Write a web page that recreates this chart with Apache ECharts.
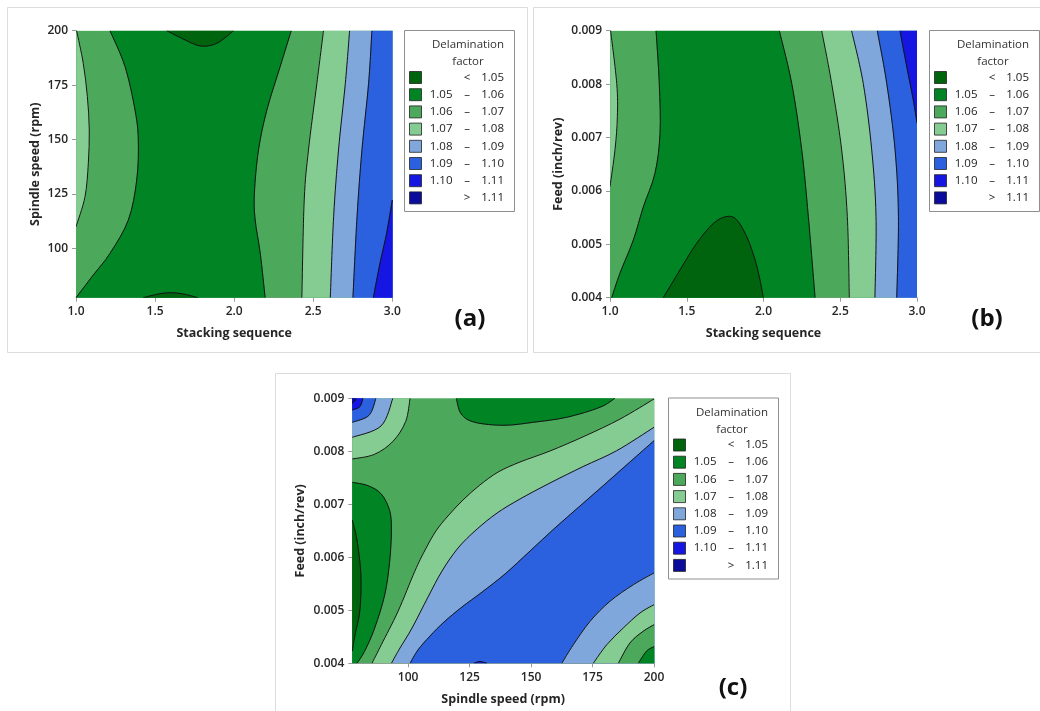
<!DOCTYPE html>
<html>
<head>
<meta charset="utf-8">
<title>Delamination factor contour plots</title>
<script src="https://cdn.jsdelivr.net/npm/echarts@6/dist/echarts.min.js"></script>
<style>
  html, body { margin: 0; padding: 0; background: #fff; }
  #chart { width: 1040px; height: 711px; }
</style>
</head>
<body>
<div id="chart"></div>
<script>
// delamination factor classes (legend)
const levelColors = ['#00640f', '#008424', '#4ca95b', '#84cc91', '#80a7dc', '#2b60de', '#1616e2', '#0c0c9c'];
const legendLeft = ['', '1.05', '1.06', '1.07', '1.08', '1.09', '1.10', ''];
const legendMid = ['<', '–', '–', '–', '–', '–', '–', '>'];
const legendRight = ['1.05', '1.06', '1.07', '1.08', '1.09', '1.10', '1.11', '1.11'];

// axis ranges and ticks
const stackRange = [1, 3];
const speedRange = [77.3, 200];
const feedRange = [0.004, 0.009];
const speedTicks = [100, 125, 150, 175, 200];

// (a) stacking sequence x spindle speed : contour lines [x, y]
const a107Left = [[1.004, 200], [1.046, 185], [1.072, 169.7], [1.084, 154.4], [1.078, 139.1], [1.057, 123.7], [1.0, 109.9]];
const a106Left = [[1.215, 200], [1.31, 183.5], [1.373, 163.6], [1.394, 149.8], [1.384, 131.4], [1.331, 113], [1.215, 97.7], [1.109, 87.7], [1.0, 77.3]];
const a105Top = [[1.574, 200], [1.669, 196.5], [1.785, 193], [1.89, 194.2], [1.996, 200]];
const a105Bottom = [[1.426, 77.3], [1.52, 79.0], [1.6, 79.6], [1.68, 79.0], [1.77, 77.3]];
const a106Right = [[2.361, 200], [2.291, 183.5], [2.207, 163.6], [2.154, 145.2], [2.128, 125.3], [2.133, 113], [2.165, 97.7], [2.196, 77.3]];
const a107Right = [[2.565, 200], [2.523, 175.8], [2.47, 145.2], [2.443, 122.2], [2.428, 77.3]];
const a108 = [[2.73, 200], [2.703, 175.8], [2.66, 145.2], [2.629, 114.5], [2.608, 77.3]];
const a109 = [[2.871, 200], [2.85, 175.8], [2.808, 145.2], [2.777, 114.5], [2.751, 77.3]];
const a110 = [[3.0, 122.2], [2.964, 106.9], [2.922, 93.1], [2.88, 77.3]];

// (b) stacking sequence x feed
const b107Left = [[1.004, 0.009], [1.044, 0.00801], [1.048, 0.00739], [1.033, 0.00678], [1.0, 0.00608]];
const b106Left = [[1.3, 0.009], [1.321, 0.00801], [1.326, 0.00708], [1.293, 0.00633], [1.217, 0.0057], [1.152, 0.00508], [1.065, 0.00446], [1.011, 0.004]];
const b105Blob = [[1.347, 0.004], [1.456, 0.00452], [1.565, 0.00502], [1.673, 0.00539], [1.76, 0.00552], [1.825, 0.00546], [1.891, 0.00514], [1.945, 0.00471], [1.977, 0.00433], [1.999, 0.004]];
const b106Right = [[2.103, 0.009], [2.184, 0.00801], [2.249, 0.00677], [2.292, 0.00552], [2.336, 0.004]];
const b107Right = [[2.379, 0.009], [2.444, 0.00801], [2.509, 0.00677], [2.546, 0.00552], [2.559, 0.004]];
const b108 = [[2.574, 0.009], [2.65, 0.00801], [2.705, 0.00677], [2.733, 0.00552], [2.726, 0.004]];
const b109 = [[2.741, 0.009], [2.803, 0.00801], [2.857, 0.00677], [2.879, 0.00552], [2.868, 0.004]];
const b110 = [[2.889, 0.009], [2.933, 0.00833], [2.976, 0.0077], [3.0, 0.00727]];

// (c) spindle speed x feed
const c111Corner = [[78.8, 0.009], [78.3, 0.008949], [77.3, 0.008911]];
const c110Corner = [[81.6, 0.009], [80.4, 0.008843], [77.3, 0.008779]];
const c109Corner = [[86.9, 0.009], [84.1, 0.008679], [77.3, 0.008547]];
const c108Corner = [[93.8, 0.009], [89.0, 0.008479], [77.3, 0.008264]];
const c107Corner = [[100.8, 0.009], [99.0, 0.008562], [93.9, 0.00819], [86.3, 0.007942], [77.3, 0.007855]];
const c105Top = [[119.6, 0.009], [121.6, 0.008704], [127.1, 0.008547], [139.0, 0.008491], [150.9, 0.008547], [164.5, 0.008642], [178.0, 0.00883], [184.1, 0.009]];
const c106Left = [[77.3, 0.007415], [83.7, 0.007351], [89.1, 0.007194], [92.5, 0.006879], [93.2, 0.006515], [92.5, 0.005925], [90.5, 0.005294], [86.4, 0.004666], [82.3, 0.004226], [79.2, 0.004]];
const c105Left = [[77.3, 0.006704], [79.2, 0.006326], [80.8, 0.005666], [80.4, 0.005006], [78.4, 0.004534], [77.3, 0.004232]];
const c107Diag = [[200, 0.008987], [186.2, 0.008609], [171.9, 0.008289], [157.7, 0.008006], [145.5, 0.007798], [136.6, 0.007609], [129.2, 0.007364], [122.3, 0.007081], [116.2, 0.006779], [111.3, 0.006496], [106.9, 0.006138], [102.7, 0.005736], [95.9, 0.004981], [89.1, 0.004351], [85.3, 0.004]];
const c108Diag = [[200, 0.008453], [184.8, 0.008011], [171.2, 0.007713], [157.7, 0.007402], [145.5, 0.0071], [136.2, 0.006836], [127.6, 0.006515], [120.3, 0.006175], [113.8, 0.005742], [108.1, 0.005251], [101.6, 0.004666], [96.7, 0.004289], [93.2, 0.004]];
const c109Diag = [[200, 0.0082], [190.2, 0.007798], [180.1, 0.007383], [169.9, 0.006968], [159.7, 0.006553], [149.6, 0.006119], [139.4, 0.005685], [130.1, 0.005345], [121.9, 0.005062], [114.6, 0.004779], [108.9, 0.004515], [104.0, 0.004251], [100.8, 0.004]];
const c109Low = [[200, 0.005704], [191.6, 0.005483], [182.1, 0.00517], [174.0, 0.004792], [167.2, 0.004351], [162.5, 0.004]];
const c108Low = [[200, 0.005106], [194.3, 0.004949], [187.5, 0.004666], [180.8, 0.004351], [175.3, 0.004]];
const c107Low = [[200, 0.004728], [195.6, 0.004604], [190.2, 0.004383], [185.5, 0.004]];
const c106Low = [[200, 0.004313], [197.0, 0.004232], [193.6, 0.004]];
const c110Spot = [[126.8, 0.004], [129.2, 0.004034], [132.0, 0.004]];

const rev = (arr) => arr.slice().reverse();

// filled regions, painted in order: level index + boundary parts
const aTL = [[1, 200]], aTR = [[3, 200]], aBR = [[3, 77.3]], aBL = [[1, 77.3]];
const regionsA = [
  { level: 2, parts: [aBL, aBR, aTR, aTL] },
  { level: 3, parts: [a107Left] },
  { level: 1, parts: [a106Left, rev(a106Right)] },
  { level: 0, parts: [a105Top] },
  { level: 0, parts: [a105Bottom] },
  { level: 3, parts: [a107Right, aBR, aTR] },
  { level: 4, parts: [a108, aBR, aTR] },
  { level: 5, parts: [a109, aBR, aTR] },
  { level: 6, parts: [a110, aBR] }
];
const linesA = [a107Left, a106Left, a105Top, a105Bottom, a106Right, a107Right, a108, a109, a110];

const bTL = [[1, 0.009]], bTR = [[3, 0.009]], bBR = [[3, 0.004]], bBL = [[1, 0.004]];
const regionsB = [
  { level: 2, parts: [bBL, bBR, bTR, bTL] },
  { level: 3, parts: [b107Left] },
  { level: 1, parts: [b106Left, rev(b106Right)] },
  { level: 0, parts: [b105Blob] },
  { level: 3, parts: [b107Right, bBR, bTR] },
  { level: 4, parts: [b108, bBR, bTR] },
  { level: 5, parts: [b109, bBR, bTR] },
  { level: 6, parts: [b110, bTR] }
];
const linesB = [b107Left, b106Left, b105Blob, b106Right, b107Right, b108, b109, b110];

const cTL = [[77.3, 0.009]], cTR = [[200, 0.009]], cBR = [[200, 0.004]], cBL = [[77.3, 0.004]];
const regionsC = [
  { level: 2, parts: [cBL, cBR, cTR, cTL] },
  { level: 3, parts: [c107Diag, cBR] },
  { level: 4, parts: [c108Diag, cBR] },
  { level: 5, parts: [c109Diag, cBR] },
  { level: 4, parts: [c109Low, cBR] },
  { level: 3, parts: [c108Low, cBR] },
  { level: 2, parts: [c107Low, cBR] },
  { level: 1, parts: [c106Low, cBR] },
  { level: 6, parts: [c110Spot] },
  { level: 1, parts: [c105Top] },
  { level: 1, parts: [c106Left, cBL] },
  { level: 0, parts: [c105Left] },
  { level: 3, parts: [c107Corner, cTL] },
  { level: 4, parts: [c108Corner, cTL] },
  { level: 5, parts: [c109Corner, cTL] },
  { level: 6, parts: [c110Corner, cTL] },
  { level: 7, parts: [c111Corner, cTL] }
];
const linesC = [c107Diag, c108Diag, c109Diag, c109Low, c108Low, c107Low, c106Low, c110Spot, c105Top, c106Left, c105Left,
  c107Corner, c108Corner, c109Corner, c110Corner, c111Corner];

// smooth curve through pixel points (catmull-rom -> bezier)
function curveSegs(px) {
  let d = '';
  for (let i = 0; i < px.length - 1; i++) {
    const p0 = px[i - 1] || px[i], p1 = px[i], p2 = px[i + 1], p3 = px[i + 2] || px[i + 1];
    const c1x = p1[0] + (p2[0] - p0[0]) / 6, c1y = p1[1] + (p2[1] - p0[1]) / 6;
    const c2x = p2[0] - (p3[0] - p1[0]) / 6, c2y = p2[1] - (p3[1] - p1[1]) / 6;
    d += ' C' + c1x + ',' + c1y + ' ' + c2x + ',' + c2y + ' ' + p2[0] + ',' + p2[1];
  }
  return d;
}
function partsPath(api, parts, close) {
  let d = '';
  parts.forEach((part, k) => {
    const px = part.map((p) => api.coord(p));
    d += (k === 0 ? 'M' : ' L') + px[0][0] + ',' + px[0][1];
    d += curveSegs(px);
  });
  return close ? d + ' Z' : d;
}

function fillSeries(idx, regions) {
  return {
    type: 'custom',
    xAxisIndex: idx,
    yAxisIndex: idx,
    clip: true,
    silent: true,
    z: 1,
    data: regions.map((r) => r.parts[0][0]),
    renderItem: (params, api) => {
      const r = regions[params.dataIndex];
      return {
        type: 'path',
        shape: { pathData: partsPath(api, r.parts, true) },
        style: { fill: levelColors[r.level], stroke: levelColors[r.level], lineWidth: 0.5 }
      };
    }
  };
}
function lineSeries(idx, lines) {
  return {
    type: 'custom',
    xAxisIndex: idx,
    yAxisIndex: idx,
    clip: true,
    silent: true,
    z: 2,
    data: lines.map((l) => l[0]),
    renderItem: (params, api) => ({
      type: 'path',
      shape: { pathData: partsPath(api, [lines[params.dataIndex]], false) },
      style: { fill: null, stroke: '#141414', lineWidth: 1 }
    })
  };
}

const tickFont = { fontFamily: 'Open Sans', fontSize: 12, fontWeight: 600, color: '#262626' };
const nameFont = { fontFamily: 'Open Sans', fontSize: 12.5, fontWeight: 'bold', color: '#262626' };
const lineStyle = { lineStyle: { color: '#9a9a9a', width: 1 } };

function valueAxis(gridIndex, range, name, gap, opts) {
  return Object.assign({
    type: 'value',
    gridIndex: gridIndex,
    min: range[0],
    max: range[1],
    name: name,
    nameLocation: 'middle',
    nameGap: gap,
    nameTextStyle: nameFont,
    axisLine: Object.assign({ show: true }, lineStyle),
    axisTick: Object.assign({ show: true, length: 4, inside: false }, lineStyle),
    splitLine: { show: false },
    axisLabel: Object.assign({ margin: 8 }, tickFont)
  }, opts);
}
const stackAxis = (g) => valueAxis(g, stackRange, 'Stacking sequence', 29, {
  interval: 0.5,
  axisLabel: Object.assign({ margin: 8, formatter: (v) => v.toFixed(1) }, tickFont)
});
const speedAxis = (g, gap) => valueAxis(g, speedRange, 'Spindle speed (rpm)', gap, {
  axisTick: Object.assign({ show: true, length: 4, customValues: speedTicks }, lineStyle),
  axisLabel: Object.assign({ margin: 8, customValues: speedTicks }, tickFont)
});
const feedAxis = (g, gap) => valueAxis(g, feedRange, 'Feed (inch/rev)', gap, {
  interval: 0.001,
  axisLabel: Object.assign({ margin: 8, formatter: (v) => v.toFixed(3) }, tickFont)
});

// legend box drawn as graphic elements
function legendGraphic(bx, by) {
  const font = 'normal 11.5px "Open Sans"';
  const els = [
    { type: 'rect', shape: { x: bx + 0.5, y: by + 0.5, width: 110, height: 181 },
      style: { fill: '#fff', stroke: '#8f8f8f', lineWidth: 1 } },
    { type: 'text', x: bx + 64, y: by + 15,
      style: { text: 'Delamination', font: font, fill: '#333', align: 'center', verticalAlign: 'middle' } },
    { type: 'text', x: bx + 64, y: by + 32,
      style: { text: 'factor', font: font, fill: '#333', align: 'center', verticalAlign: 'middle' } }
  ];
  levelColors.forEach((c, i) => {
    const cy = by + 47.5 + i * 17.2;
    els.push({ type: 'rect', shape: { x: bx + 5.5, y: cy - 6, width: 12, height: 12 },
      style: { fill: c, stroke: '#222', lineWidth: 0.8 } });
    els.push({ type: 'text', x: bx + 48.5, y: cy,
      style: { text: legendLeft[i], font: font, fill: '#222', align: 'right', verticalAlign: 'middle' } });
    els.push({ type: 'text', x: bx + 63, y: cy,
      style: { text: legendMid[i], font: font, fill: '#222', align: 'center', verticalAlign: 'middle' } });
    els.push({ type: 'text', x: bx + 100, y: cy,
      style: { text: legendRight[i], font: font, fill: '#222', align: 'right', verticalAlign: 'middle' } });
  });
  return els;
}
function panelLabel(text, x, y) {
  return { type: 'text', x: x, y: y,
    style: { text: text, font: 'bold 24px "Open Sans"', fill: '#111', align: 'center', verticalAlign: 'middle' } };
}
const frame = (x, y, w, h) => ({ type: 'rect', z: -10, shape: { x: x, y: y, width: w, height: h },
  style: { fill: null, stroke: '#dcdcdc', lineWidth: 1 } });

const chart = echarts.init(document.getElementById('chart'), null, { renderer: 'canvas' });
chart.setOption({
  animation: false,
  backgroundColor: '#fff',
  grid: [
    { left: 76, top: 30.7, width: 316.3, height: 267 },
    { left: 610, top: 30.7, width: 307, height: 267 },
    { left: 352.3, top: 398.3, width: 301.7, height: 265 }
  ],
  xAxis: [stackAxis(0), stackAxis(1), speedAxis(2, 30)],
  yAxis: [speedAxis(0, 34), feedAxis(1, 45), feedAxis(2, 45)],
  series: [
    fillSeries(0, regionsA), lineSeries(0, linesA),
    fillSeries(1, regionsB), lineSeries(1, linesB),
    fillSeries(2, regionsC), lineSeries(2, linesC)
  ],
  graphic: [
    frame(7.5, 7.5, 520, 345),
    frame(533.5, 7.5, 520, 345),
    frame(275.5, 373.5, 515, 345)
  ].concat(
    legendGraphic(404, 30),
    legendGraphic(929, 30),
    legendGraphic(668, 397.5),
    [panelLabel('(a)', 470, 319), panelLabel('(b)', 987, 319), panelLabel('(c)', 733, 688)]
  )
});
</script>
</body>
</html>
